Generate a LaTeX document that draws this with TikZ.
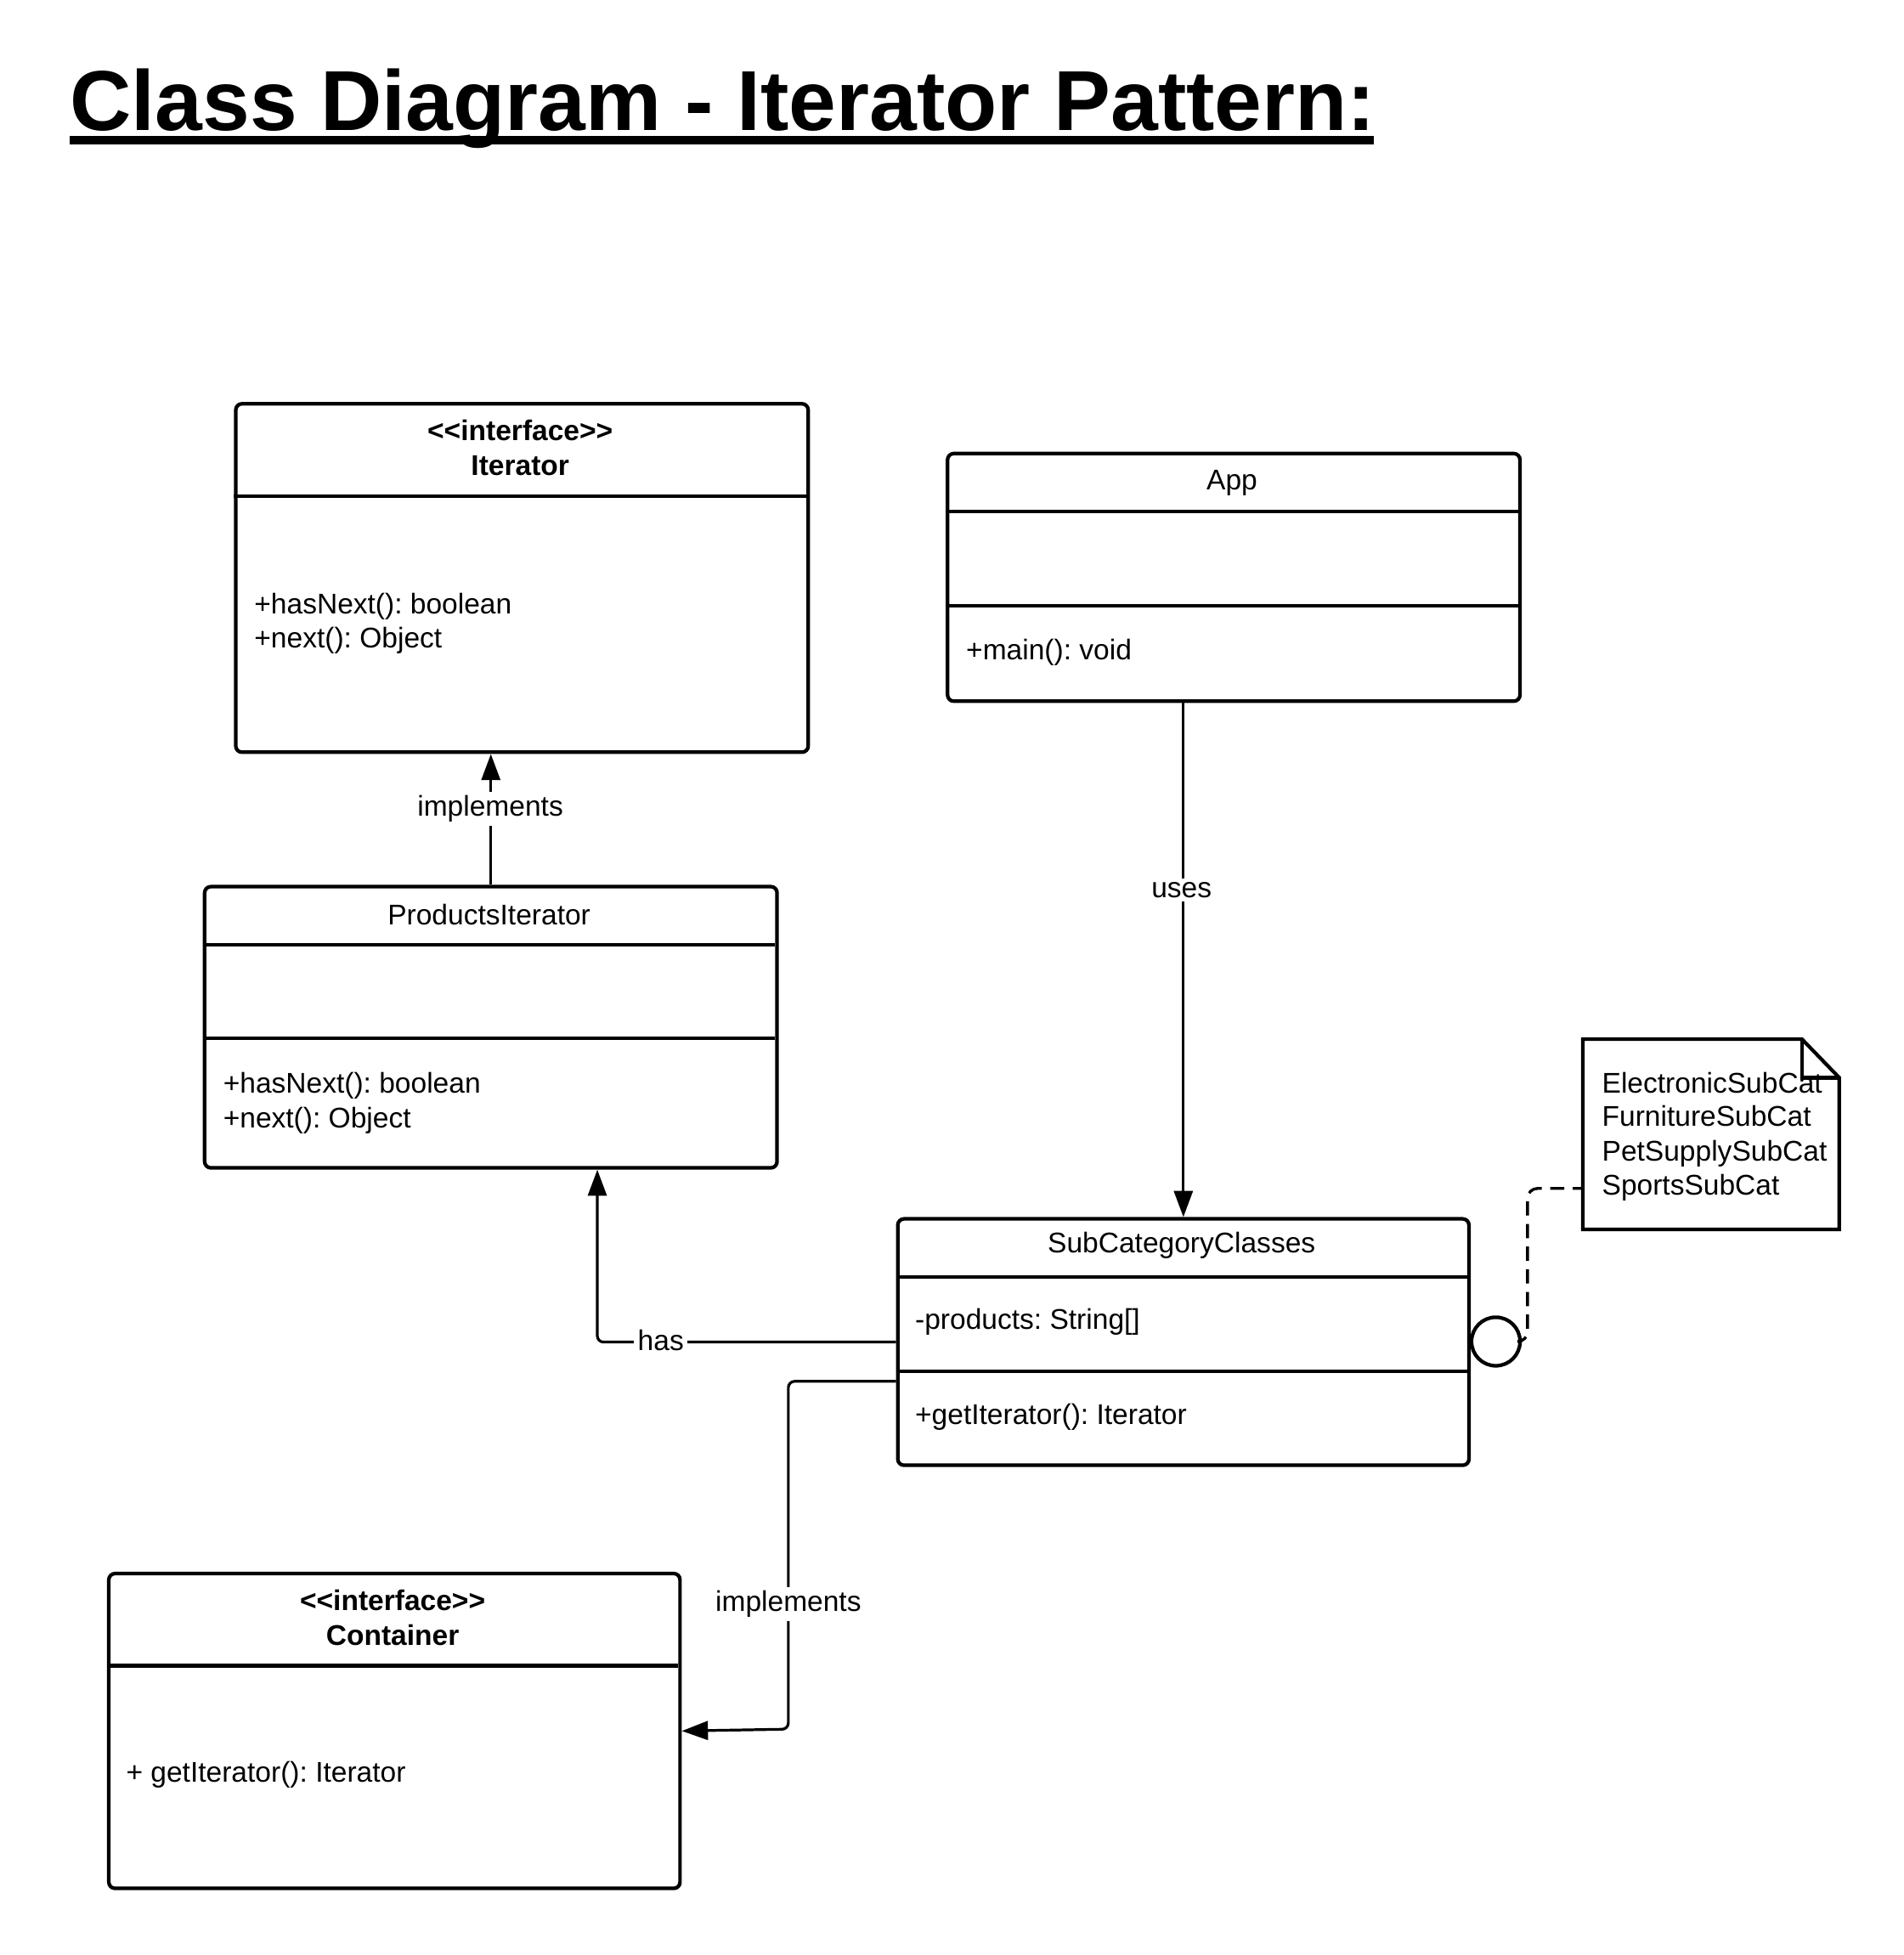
\documentclass[tikz,border=0pt]{standalone}
\usepackage{fontspec}
\setmainfont{Liberation Sans}
\newfontfamily\titlefont{Liberation Sans}
\usetikzlibrary{arrows.meta,calc}
\frenchspacing
\begin{document}
\begin{tikzpicture}[x=0.5pt,y=-0.5pt,
  box/.style={draw, line width=1.45pt, rounded corners=2.5pt, inner sep=0pt, anchor=north west},
  sepline/.style={line width=1.45pt},
  txt/.style={inner sep=0pt, font=\fontsize{11.45}{13.7}\selectfont},
  btxt/.style={inner sep=0pt, font=\fontsize{11.45}{13.7}\selectfont\bfseries},
  conn/.style={line width=1.1pt, rounded corners=2.5pt, -{Triangle[length=10.5pt,width=7.5pt]}},
  lbl/.style={inner sep=1.5pt, fill=white, font=\fontsize{11.45}{13.7}\selectfont},
]
\useasboundingbox (0,0) rectangle (1530,1571);

% title
\fill (56,109) rectangle (1104,116);
\node[anchor=base west, inner sep=0pt, font=\titlefont\fontsize{34.2}{40}\selectfont\bfseries] (title) at (56,104.6) {Class Diagram - Iterator Pattern:};

% Iterator
\node[box, minimum width=230pt, minimum height=140pt] (iter) at (188,323) {};
\draw[sepline] (188,398.5) -- (648,398.5);
\node[btxt] (iterst) at (418,346) {<\kern0pt<interface>\kern0pt>};
\node[btxt] (itername) at (418,374) {Iterator};
\node[txt, anchor=mid west] (iterm1) at (204,488) {+hasNext(): boolean};
\node[txt, anchor=mid west] (iterm2) at (204,515) {+next(): Object};

% App
\node[box, minimum width=230pt, minimum height=99.5pt] (app) at (760,363) {};
\draw[sepline] (760,411) -- (1220,411);
\draw[sepline] (760,487) -- (1220,487);
\node[txt] (appname) at (990,388) {App};
\node[txt, anchor=mid west] (appm1) at (776,525) {+main(): void};

% ProductsIterator
\node[box, minimum width=230pt, minimum height=113pt] (pi) at (163,711) {};
\draw[sepline] (163,759) -- (623,759);
\node[txt] (piname) at (393,735) {ProductsIterator};
\draw[sepline] (163,834.5) -- (623,834.5);
\node[txt, anchor=mid west] (pim1) at (179,873) {+hasNext(): boolean};
\node[txt, anchor=mid west] (pim2) at (179,901) {+next(): Object};

% SubCategoryClasses
\node[box, minimum width=229.5pt, minimum height=99pt] (sub) at (720,978) {};
\draw[sepline] (720,1026) -- (1179,1026);
\draw[sepline] (720,1102) -- (1179,1102);
\node[txt] (subname) at (949.5,1001) {SubCategoryClasses};
\node[txt, anchor=mid west] (suba1) at (735,1063) {-products: String[]};
\node[txt, anchor=mid west] (subm1) at (735,1139) {+getIterator(): Iterator};

% Container
\node[box, minimum width=229.5pt, minimum height=126.5pt] (cont) at (86,1263) {};
\draw[sepline] (86,1338.5) -- (545,1338.5);
\node[btxt] (contst) at (315.5,1286) {<\kern0pt<interface>\kern0pt>};
\node[btxt] (contname) at (315.5,1314) {Container};
\node[txt, anchor=mid west] (contm1) at (101,1427) {+ getIterator(): Iterator};

% note
\node[anchor=north west, minimum width=103pt, minimum height=76.5pt, inner sep=0pt] (note) at (1272,835) {};
\draw[sepline] (1272,835) -- (1448,835) -- (1478,866) -- (1478,988) -- (1272,988) -- cycle;
\draw[sepline] (1448,835) -- (1448,866) -- (1478,866);
\node[txt, anchor=mid west] (n1) at (1287,873) {ElectronicSubCat};
\node[txt, anchor=mid west] (n2) at (1287,900) {FurnitureSubCat};
\node[txt, anchor=mid west] (n3) at (1287,927.5) {PetSupplySubCat};
\node[txt, anchor=mid west] (n4) at (1287,955) {SportsSubCat};

% lollipop
\node[draw, circle, line width=1.45pt, minimum size=19.5pt, inner sep=0pt] (circ) at (1202,1078) {};
\draw[line width=1.15pt, dash pattern=on 5.7pt off 3.4pt, rounded corners=4pt]
  (circ.east) -| (1227.5,955) -- ($(note.north west)+(0,120)$);

% connectors
\draw[conn] (pi.north) -- (pi.north |- iter.south);
\node[lbl] (l1) at (394,650) {implements};

\draw[conn] (sub.north |- app.south) -- (sub.north);
\node[lbl] (l2) at (949.5,715) {uses};

\draw[conn] (sub.west) -| (pi.south -| 480,0);
\node[lbl] (l3) at (531,1077) {has};

\coordinate (s2) at (720,1110);
\draw[conn] (s2) -| (633.5,1389.5) -- (cont.east);
\node[lbl] (l4) at (633.5,1289) {implements};
\end{tikzpicture}
\end{document}
